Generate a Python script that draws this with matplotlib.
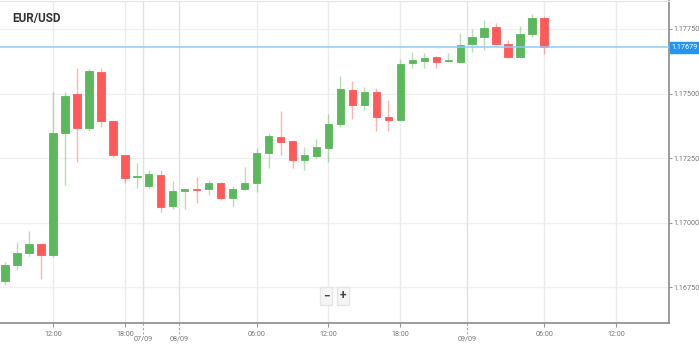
import matplotlib
matplotlib.use('Agg')
import matplotlib.pyplot as plt
import matplotlib.transforms as mtransforms

# hourly EUR/USD candles (open, high, low, close)
opens = [1.16775, 1.16836, 1.16883, 1.16918, 1.16875, 1.17347, 1.17498, 1.17367, 1.17584, 1.17394,
         1.17262, 1.17177, 1.17142, 1.17185, 1.17065, 1.17123, 1.17131, 1.17131, 1.17154, 1.17096,
         1.17131, 1.17154, 1.17270, 1.17332, 1.17316, 1.17243, 1.17258, 1.17289, 1.17382, 1.17514,
         1.17456, 1.17506, 1.17409, 1.17398, 1.17618, 1.17626, 1.17642, 1.17626, 1.17622, 1.17692,
         1.17719, 1.17758, 1.17692, 1.17642, 1.17731, 1.17793]
highs = [1.16848, 1.16925, 1.16968, 1.16920, 1.17506, 1.17506, 1.17599, 1.17595, 1.17599, 1.17394,
         1.17262, 1.17231, 1.17204, 1.17204, 1.17162, 1.17131, 1.17177, 1.17166, 1.17158, 1.17142,
         1.17216, 1.17289, 1.17347, 1.17433, 1.17318, 1.17293, 1.17324, 1.17421, 1.17568, 1.17549,
         1.17525, 1.17522, 1.17475, 1.17634, 1.17661, 1.17657, 1.17645, 1.17657, 1.17735, 1.17750,
         1.17785, 1.17773, 1.17707, 1.17762, 1.17808, 1.17800]
lows = [1.16759, 1.16817, 1.16871, 1.16782, 1.16867, 1.17146, 1.17235, 1.17355, 1.17371, 1.17255,
        1.17154, 1.17135, 1.17135, 1.17042, 1.17053, 1.17053, 1.17076, 1.17107, 1.17088, 1.17065,
        1.17127, 1.17119, 1.17212, 1.17262, 1.17212, 1.17204, 1.17251, 1.17235, 1.17371, 1.17402,
        1.17436, 1.17355, 1.17355, 1.17398, 1.17599, 1.17599, 1.17599, 1.17622, 1.17622, 1.17661,
        1.17669, 1.17688, 1.17638, 1.17642, 1.17719, 1.17653]
closes = [1.16836, 1.16883, 1.16918, 1.16875, 1.17347, 1.17491, 1.17367, 1.17587, 1.17394, 1.17262,
          1.17173, 1.17181, 1.17189, 1.17061, 1.17123, 1.17131, 1.17127, 1.17154, 1.17096, 1.17131,
          1.17154, 1.17270, 1.17336, 1.17313, 1.17243, 1.17262, 1.17293, 1.17382, 1.17518, 1.17456,
          1.17506, 1.17409, 1.17398, 1.17615, 1.17630, 1.17638, 1.17622, 1.17630, 1.17688, 1.17719,
          1.17754, 1.17692, 1.17642, 1.17731, 1.17793, 1.17679]

last_price = 1.17679
time_ticks = [4, 10, 21, 27, 33, 45, 51]
time_labels = ['12:00', '18:00', '06:00', '12:00', '18:00', '06:00', '12:00']
date_ticks = [11.5, 14.5, 38.6]
date_labels = ['07/09', '08/09', '09/09']
price_ticks = [1.1675, 1.17, 1.1725, 1.175, 1.1775]

GREEN = '#5cb85c'
RED = '#ff5a5a'
GRAY = '#777777'
FS = 5.2
plt.rcParams['font.family'] = ['Roboto', 'DejaVu Sans']

fig = plt.figure(figsize=(6.99, 3.44), dpi=100)
ax = fig.add_axes([0.0, 0.061, 669 / 699, 0.936])

x = list(range(len(opens)))
cols = [GREEN if c >= o else RED for o, c in zip(opens, closes)]
bottoms = [min(o, c) for o, c in zip(opens, closes)]
heights = [max(abs(c - o), 0.00004) for o, c in zip(opens, closes)]

ax.vlines(x, lows, highs, colors=cols, linewidth=1, alpha=0.45, zorder=2)
ax.bar(x, heights, bottom=bottoms, width=0.62, color=cols, edgecolor=cols,
       linewidth=0.6, zorder=3)

ax.axhline(last_price, color='#90caf9', linewidth=1.1, zorder=4)

ax.set_xlim(-0.42, 55.43)
ax.set_ylim(1.16612, 1.17858)

# grid
for p in price_ticks:
    ax.axhline(p, color='#f0f0f0', linewidth=1, zorder=0)
for t in time_ticks:
    ax.axvline(t, color='#ececec', linewidth=1, zorder=0)
for t in date_ticks:
    ax.axvline(t, color='#e2e2e2', linewidth=1, zorder=0)

# right price axis
ax.yaxis.tick_right()
ax.set_yticks(price_ticks)
ax.set_yticklabels(['%.5f' % p for p in price_ticks])
ax.tick_params(axis='y', direction='out', length=2.5, width=0.8, color='#999999',
               labelsize=FS, labelcolor=GRAY, pad=1)

# bottom time axis
ax.set_xticks(time_ticks)
ax.set_xticklabels(time_labels)
ax.tick_params(axis='x', direction='out', length=3, width=0.8, color='#999999',
               labelsize=FS, labelcolor=GRAY, pad=2.5)
trans = mtransforms.blended_transform_factory(ax.transData, ax.transAxes)
for t, lab in zip(date_ticks, date_labels):
    ax.plot([t, t], [0, -0.035], transform=trans, color='#aaaaaa', linewidth=0.8,
            linestyle=(0, (2, 2)), clip_on=False)
    ax.text(t, -0.039, lab, transform=trans, ha='center', va='top',
            fontsize=FS, color=GRAY)

ax.spines['left'].set_visible(False)
ax.spines['top'].set_color('#e6e6e6')
ax.spines['right'].set_color('#8a8a8a')
ax.spines['right'].set_linewidth(1.2)
ax.spines['bottom'].set_color('#8a8a8a')
ax.spines['bottom'].set_linewidth(1.2)

# last price tag
ytrans = mtransforms.blended_transform_factory(ax.transAxes, ax.transData)
ax.text(1.004, last_price, '%.5f' % last_price, transform=ytrans, ha='left', va='center',
        fontsize=FS, color='white',
        bbox=dict(boxstyle='square,pad=0.3', fc='#2196f3', ec='#2196f3'), zorder=6,
        clip_on=False)

ax.text(0.018, 0.947, 'EUR/USD', transform=ax.transAxes, fontsize=8.5,
        fontweight='bold', color='#333333', ha='left', va='center')

# zoom control: two small buttons
for bx, sym in [(326, '\u2212'), (343, '+')]:
    fig.text(bx / 699, 1 - 296 / 344, sym, ha='center', va='center', fontsize=8.5,
             fontweight='bold', color='#444444',
             bbox=dict(boxstyle='square,pad=0.25', fc='#f5f5f5', ec='#e6e6e6'))

fig.savefig('out.png', dpi=100)
